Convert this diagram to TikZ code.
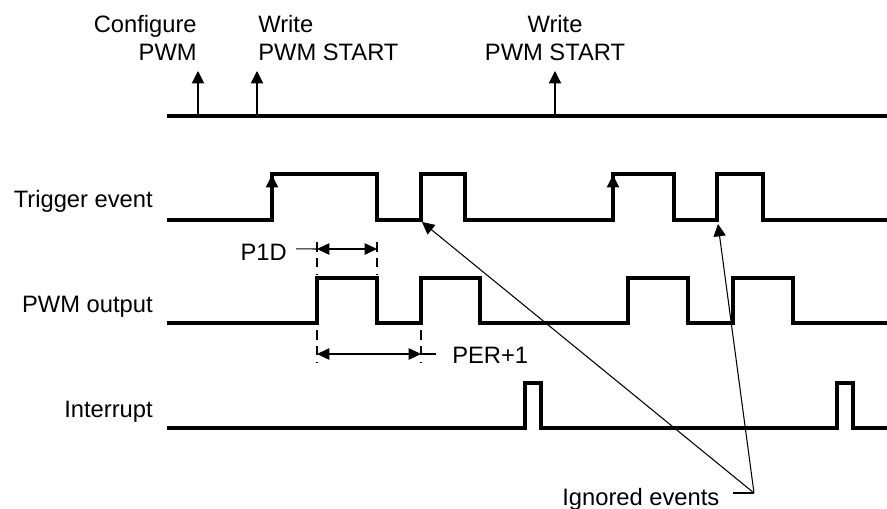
\documentclass[tikz,border=0pt]{standalone}
\usepackage{fontspec}
\setmainfont{Liberation Sans}
\usetikzlibrary{arrows.meta,positioning,calc}

\begin{document}
\begin{tikzpicture}[x=0.02cm,y=-0.02cm,
    font=\fontsize{13.5}{15.9}\selectfont,
    sig/.style={line width=1.8pt,line join=miter},
    leader/.style={line width=0.6pt},
    tip/.style={-{Triangle[length=7pt,width=7pt]}},
    dimline/.style={line width=0.6pt,{Triangle[length=7pt,width=6.5pt]}-{Triangle[length=7pt,width=6.5pt]}},
    guide/.style={line width=0.7pt,dash pattern=on 5.5pt off 3.5pt},
    lbl/.style={inner sep=0pt}]
  \useasboundingbox (0,0) rectangle (887,508);

  % Software events
  \draw[sig] (167,116) -- (887,116);
  \foreach \x in {198,257,555} {
    \draw[leader,tip] (\x,117) -- (\x,71);
  }
  \node[lbl,anchor=base east,align=right] (cfg) at (197,60) {Configure\\PWM};
  \node[lbl,anchor=base west,align=left] (wr1) at (258,60) {Write\\PWM START};
  \node[lbl,anchor=base,align=center] (wr2) at (555,60) {Write\\PWM START};

  % Signal names
  \node[lbl,anchor=base east] (trig) at (153,207) {Trigger event};
  \node[lbl,anchor=base east] (pwm) at (153,312) {PWM output};
  \node[lbl,anchor=base east] (intr) at (153,417) {Interrupt};

  % Trigger event
  \draw[sig] (167,220) foreach \a/\b in {272/377,421/465,613/674,717/763} {
    -- (\a,220) -- (\a,174) -- (\b,174) -- (\b,220) } -- (887,220);
  \foreach \x in {272,613} {
    \draw[leader,tip] (\x,219) -- (\x,175);
  }

  % PWM output
  \draw[sig] (167,323) foreach \a/\b in {317/377,421/480,628/688,733/793} {
    -- (\a,323) -- (\a,278) -- (\b,278) -- (\b,323) } -- (887,323);

  % Interrupt
  \draw[sig] (167,428) foreach \a/\b in {525/541,837/853} {
    -- (\a,428) -- (\a,383) -- (\b,383) -- (\b,428) } -- (887,428);

  % P1D
  \draw[guide] (317,242) -- (317,274);
  \draw[guide] (377,242) -- (377,274);
  \coordinate (p1da) at (317,249);
  \coordinate (p1db) at (377,249);
  \draw[dimline] (p1da) -- (p1db);
  \node[lbl,anchor=base east] (p1d) at (287,260) {P1D};
  \draw[leader] ($(p1d.east)+(9,-3)$) -- (p1da);

  % PER+1
  \draw[guide] (317,330) -- (317,362);
  \draw[guide] (421,330) -- (421,362);
  \coordinate (pera) at (317,354);
  \coordinate (perb) at (421,354);
  \draw[dimline] (pera) -- (perb);
  \node[lbl,anchor=base west] (per) at (452,363) {PER+1};
  \draw[leader] (perb) -- ++(15,0);

  % Ignored events
  \node[lbl,anchor=base west] (ign) at (562,505) {Ignored events};
  \coordinate (ignpt) at (754,493);
  \coordinate (ev1) at (422,222);
  \coordinate (ev2) at (718,224);
  \draw[leader] (733,493) -- (ignpt);
  \draw[leader,tip] (ignpt) -- (ev1);
  \draw[leader,tip] (ignpt) -- (ev2);
\end{tikzpicture}
\end{document}
